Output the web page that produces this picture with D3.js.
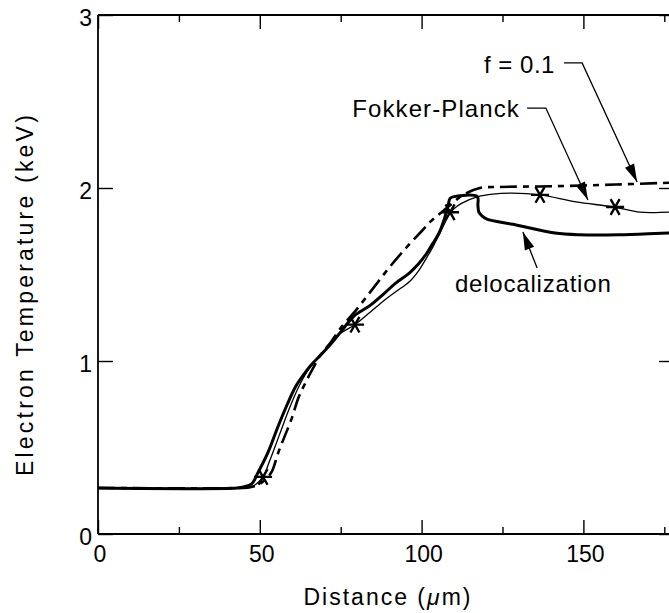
<!DOCTYPE html>
<html>
<head>
<meta charset="utf-8">
<script src="https://cdn.jsdelivr.net/npm/d3@7"></script>
<style>
  body { margin: 0; background: #fff; }
  svg { display: block; }
</style>
</head>
<body>
<div id="chart"></div>
<script>
// distance in micrometres, temperature in keV
const delocX = [0, 43, 45, 47.5, 49.3, 52.5, 55.6, 58.5, 61, 63.5, 66, 68.6, 72, 75.1, 79.1, 84, 88.4, 92, 96.3, 99, 101.5, 103.5, 105.4, 107, 108.2, 108.8, 110, 117.2, 117.4, 117.7, 118.6, 120.2, 128.2, 141.2, 148.9, 161, 176.4, 180];
const delocY = [0.266, 0.266, 0.272, 0.29, 0.35, 0.47, 0.62, 0.75, 0.85, 0.92, 0.98, 1.03, 1.1, 1.17, 1.26, 1.32, 1.39, 1.45, 1.51, 1.56, 1.62, 1.68, 1.74, 1.82, 1.9, 1.94, 1.95, 1.95, 1.9, 1.86, 1.84, 1.82, 1.79, 1.74, 1.73, 1.73, 1.74, 1.74];

const fpX = [0, 45, 47, 49, 51, 53, 56, 59, 62, 65, 68, 72, 75, 79.4, 84, 88.4, 92, 96.3, 99, 101.5, 103.5, 105.4, 107, 108.2, 110, 112.2, 117.4, 122, 127.9, 136.6, 147.7, 159.5, 167.5, 176.4, 180];
const fpY = [0.266, 0.266, 0.27, 0.29, 0.33, 0.42, 0.57, 0.72, 0.85, 0.95, 1.02, 1.1, 1.16, 1.21, 1.28, 1.35, 1.40, 1.46, 1.52, 1.595, 1.66, 1.73, 1.79, 1.84, 1.88, 1.91, 1.95, 1.965, 1.97, 1.96, 1.92, 1.89, 1.86, 1.86, 1.86];

const fluxX = [0, 44, 47, 50, 52, 53.7, 55.7, 57.8, 59.9, 62, 64, 66.5, 68.6, 72, 75, 80, 85, 90, 95, 100, 103, 106.2, 109.4, 112.8, 118, 124, 140, 160, 176.4, 180];
const fluxY = [0.266, 0.266, 0.27, 0.29, 0.32, 0.36, 0.47, 0.57, 0.67, 0.79, 0.87, 0.96, 1.03, 1.11, 1.19, 1.30, 1.42, 1.54, 1.65, 1.75, 1.81, 1.86, 1.91, 1.96, 2.0, 2.006, 2.01, 2.02, 2.03, 2.03];

const starX = [51, 79.4, 108.8, 136.6, 159.8];
const starY = [0.33, 1.21, 1.86, 1.96, 1.89];

const xMajor = [0, 50, 100, 150];
const xMinor = [25, 75, 125, 175];
const yMajor = [0, 1, 2, 3];

const width = 669, height = 613;
const font = "'Liberation Sans', Arial, Helvetica, sans-serif";

const svg = d3.select('#chart').append('svg')
    .attr('width', width)
    .attr('height', height)
    .style('font-family', font);

const x = d3.scaleLinear().domain([0, 178]).range([98, 674]);
const y = d3.scaleLinear().domain([0, 3]).range([534, 15]);

// frame
const frame = svg.append('g').attr('stroke', '#000').attr('fill', 'none');
frame.append('line').attr('x1', x(0)).attr('x2', x(178)).attr('y1', y(0)).attr('y2', y(0)).attr('stroke-width', 2.2);
frame.append('line').attr('x1', x(0)).attr('x2', x(178)).attr('y1', y(3)).attr('y2', y(3)).attr('stroke-width', 1.8);
frame.append('line').attr('x1', x(0)).attr('x2', x(0)).attr('y1', y(0)).attr('y2', y(3)).attr('stroke-width', 1.8);
frame.append('line').attr('x1', x(178)).attr('x2', x(178)).attr('y1', y(0)).attr('y2', y(3)).attr('stroke-width', 1.8);

// inward ticks
const xAxisB = d3.axisBottom(x).tickValues(xMajor).tickSize(-14).tickFormat('');
const xAxisBm = d3.axisBottom(x).tickValues(xMinor).tickSize(-7).tickFormat('');
const xAxisT = d3.axisTop(x).tickValues(xMajor).tickSize(-14).tickFormat('');
const xAxisTm = d3.axisTop(x).tickValues(xMinor).tickSize(-7).tickFormat('');
const yAxisL = d3.axisLeft(y).tickValues(yMajor).tickSize(-15).tickFormat('');
const yAxisR = d3.axisRight(y).tickValues(yMajor).tickSize(-15).tickFormat('');

[[xAxisB, `translate(0,${y(0)})`], [xAxisBm, `translate(0,${y(0)})`],
 [xAxisT, `translate(0,${y(3)})`], [xAxisTm, `translate(0,${y(3)})`],
 [yAxisL, `translate(${x(0)},0)`], [yAxisR, `translate(${x(178)},0)`]].forEach(([ax, t]) => {
    const g = svg.append('g').attr('transform', t).call(ax);
    g.select('.domain').remove();
    g.selectAll('line').attr('stroke', '#000').attr('stroke-width', 1.4);
});

// tick labels
svg.append('g').selectAll('text').data(xMajor).enter().append('text')
    .attr('x', d => x(d) + 2)
    .attr('y', 562)
    .attr('text-anchor', 'middle')
    .attr('font-size', 23)
    .text(d => d);

svg.append('g').selectAll('text').data(yMajor).enter().append('text')
    .attr('x', 92)
    .attr('y', d => y(d) + 11)
    .attr('text-anchor', 'end')
    .attr('font-size', 23)
    .text(d => d);

// axis titles
const xt = svg.append('text')
    .attr('x', 388)
    .attr('y', 605)
    .attr('text-anchor', 'middle')
    .attr('font-size', 23)
    .style('letter-spacing', '2px');
xt.append('tspan').text('Distance (');
xt.append('tspan').style('font-style', 'italic').text('μ');
xt.append('tspan').text('m)');

svg.append('text')
    .attr('transform', 'translate(33,294) rotate(-90)')
    .attr('text-anchor', 'middle')
    .attr('font-size', 23)
    .style('letter-spacing', '3.2px')
    .text('Electron Temperature (keV)');

// curves
svg.append('clipPath').attr('id', 'plot')
    .append('rect').attr('x', x(0)).attr('y', y(3)).attr('width', x(178) - x(0)).attr('height', y(0) - y(3));

const line = d3.line()
    .x(d => x(d[0]))
    .y(d => y(d[1]))
    .curve(d3.curveCatmullRom.alpha(0.5));

const plot = svg.append('g').attr('clip-path', 'url(#plot)').attr('fill', 'none').attr('stroke', '#000');

plot.append('path')
    .attr('d', line(d3.zip(fluxX, fluxY)))
    .attr('stroke-width', 2.6)
    .attr('stroke-dasharray', '17,6,6,6');

plot.append('path')
    .attr('d', line(d3.zip(fpX, fpY)))
    .attr('stroke-width', 1.3);

plot.append('path')
    .attr('d', line(d3.zip(delocX, delocY)))
    .attr('stroke-width', 3)
    .attr('stroke-linejoin', 'round');

const star = d3.symbol().type(d3.symbolAsterisk).size(230);
plot.selectAll('.star').data(d3.zip(starX, starY)).enter().append('path')
    .attr('class', 'star')
    .attr('transform', d => `translate(${x(d[0])},${y(d[1])}) rotate(90)`)
    .attr('d', star)
    .attr('stroke-width', 2.4);

// annotations (data units)
const notes = [
    {label: 'f = 0.1', tx: 141.2, ty: 2.665, anchor: 'end', spacing: 0.5, path: [[144.0, 2.723], [149.6, 2.723], [166.6, 2.035]]},
    {label: 'Fokker-Planck', tx: 130.4, ty: 2.41, anchor: 'end', spacing: 1.1, path: [[132.6, 2.462], [138.4, 2.462], [151.4, 1.931]]},
    {label: 'delocalization', tx: 110.3, ty: 1.399, anchor: 'start', spacing: 0.8, path: [[135.7, 1.538], [131.3, 1.746]]}
];

const ann = svg.append('g');
notes.forEach(n => {
    ann.append('text')
        .attr('x', x(n.tx))
        .attr('y', y(n.ty))
        .attr('text-anchor', n.anchor)
        .attr('font-size', 24)
        .style('letter-spacing', n.spacing + 'px')
        .text(n.label);

    const pts = n.path.map(p => [x(p[0]), y(p[1])]);
    ann.append('path')
        .attr('d', d3.line()(pts))
        .attr('fill', 'none')
        .attr('stroke', '#000')
        .attr('stroke-width', 1.3);

    // arrowhead at the last point
    const [x1, y1] = pts[pts.length - 2];
    const [x2, y2] = pts[pts.length - 1];
    const a = Math.atan2(y2 - y1, x2 - x1);
    const len = 18, half = 5;
    const bx = x2 - len * Math.cos(a), by = y2 - len * Math.sin(a);
    const head = [
        [x2, y2],
        [bx + half * Math.sin(a), by - half * Math.cos(a)],
        [bx - half * Math.sin(a), by + half * Math.cos(a)]
    ];
    ann.append('path')
        .attr('d', d3.line()(head) + 'Z')
        .attr('fill', '#000');
});
</script>
</body>
</html>
